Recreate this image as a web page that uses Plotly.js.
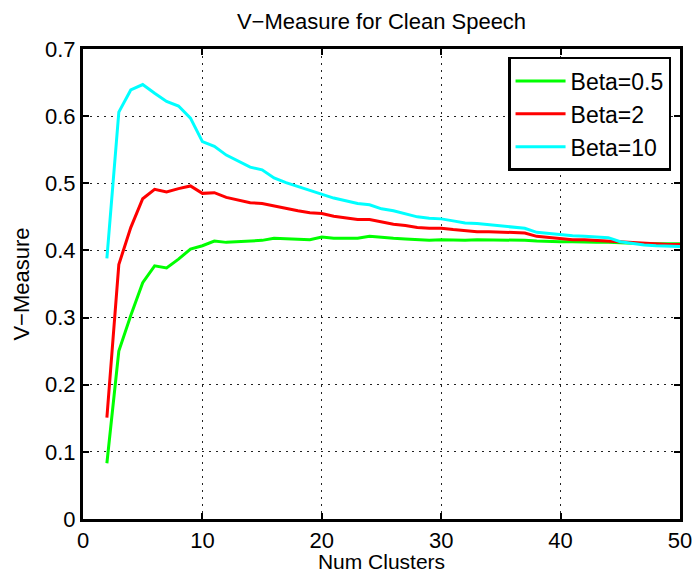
<!DOCTYPE html>
<html>
<head>
<meta charset="utf-8">
<script src="https://cdn.plot.ly/plotly-3.0.1.min.js"></script>
<style>html,body{margin:0;padding:0;background:#fff;}#chart{width:693px;height:573px;}</style>
</head>
<body>
<div id="chart"></div>
<script>
const numClusters = [2,3,4,5,6,7,8,9,10,11,12,13,14,15,16,17,18,19,20,21,22,23,24,25,26,27,28,29,30,31,32,33,34,35,36,37,38,39,40,41,42,43,44,45,46,47,48,49,50];
const beta05 = [0.083,0.250,0.303,0.352,0.377,0.374,0.387,0.402,0.407,0.414,0.412,0.413,0.413,0.415,0.418,0.417,0.416,0.416,0.420,0.418,0.418,0.418,0.421,0.419,0.418,0.417,0.416,0.415,0.416,0.415,0.415,0.416,0.416,0.416,0.415,0.415,0.414,0.413,0.413,0.413,0.412,0.412,0.412,0.411,0.411,0.410,0.410,0.410,0.410];
const beta2 = [0.151,0.379,0.434,0.477,0.491,0.487,0.492,0.496,0.485,0.486,0.479,0.475,0.471,0.470,0.466,0.462,0.459,0.456,0.455,0.451,0.449,0.446,0.446,0.442,0.439,0.437,0.434,0.433,0.433,0.431,0.429,0.428,0.428,0.427,0.427,0.426,0.421,0.419,0.418,0.416,0.416,0.415,0.414,0.412,0.411,0.410,0.410,0.409,0.409];
const beta10 = [0.388,0.606,0.639,0.647,0.634,0.622,0.615,0.597,0.562,0.555,0.542,0.533,0.524,0.520,0.508,0.501,0.495,0.489,0.484,0.478,0.474,0.470,0.468,0.462,0.459,0.455,0.450,0.448,0.447,0.444,0.441,0.440,0.438,0.436,0.435,0.433,0.427,0.425,0.423,0.422,0.421,0.420,0.419,0.413,0.410,0.408,0.407,0.406,0.406];
const seriesNames = ['Beta=0.5','Beta=2','Beta=10'];
const xTicks = [0,10,20,30,40,50];
const yTicks = [0,0.1,0.2,0.3,0.4,0.5,0.6,0.7];
const yTickText = ['0','0.1','0.2','0.3','0.4','0.5','0.6','0.7'];

const font = 'Liberation Sans, Arial, Helvetica, sans-serif';
const traces = [
  {x:numClusters, y:beta05, name:seriesNames[0], mode:'lines', line:{color:'#00ff00', width:3}},
  {x:numClusters, y:beta2, name:seriesNames[1], mode:'lines', line:{color:'#ff0000', width:3}},
  {x:numClusters, y:beta10, name:seriesNames[2], mode:'lines', line:{color:'#00ffff', width:3}}
];
const axisCommon = {
  showline:true, linecolor:'#000', linewidth:3, mirror:'allticks',
  ticks:'inside', ticklen:6, tickwidth:2, tickcolor:'#000',
  showgrid:true, gridcolor:'#222', gridwidth:1, griddash:'2px,5px',
  zeroline:false, tickfont:{family:font, size:22, color:'#000'}
};
const layout = {
  width:693, height:573,
  margin:{l:83, r:13, t:49, b:54},
  paper_bgcolor:'#fff', plot_bgcolor:'#fff',
  title:{text:'V\u2212Measure for Clean Speech', font:{family:font, size:22, color:'#000'},
    xref:'paper', x:0.5, xanchor:'center', yref:'container', y:0.962, yanchor:'middle'},
  xaxis:Object.assign({}, axisCommon, {range:[0,50], tickvals:xTicks, ticktext:xTicks.map(String),
    title:{text:'Num Clusters', font:{family:font, size:21, color:'#000'}, standoff:6}}),
  yaxis:Object.assign({}, axisCommon, {range:[0,0.7], tickvals:yTicks, ticktext:yTickText,
    title:{text:'V\u2212Measure', font:{family:font, size:22, color:'#000'}, standoff:10}}),
  legend:{x:0.985, y:0.983, xanchor:'right', yanchor:'top', bgcolor:'#fff', bordercolor:'#000', borderwidth:2.5,
    font:{family:font, size:23, color:'#000'}, tracegroupgap:0, itemwidth:50},
  showlegend:true
};
Plotly.newPlot('chart', traces, layout, {displayModeBar:false, staticPlot:true});
</script>
</body>
</html>
